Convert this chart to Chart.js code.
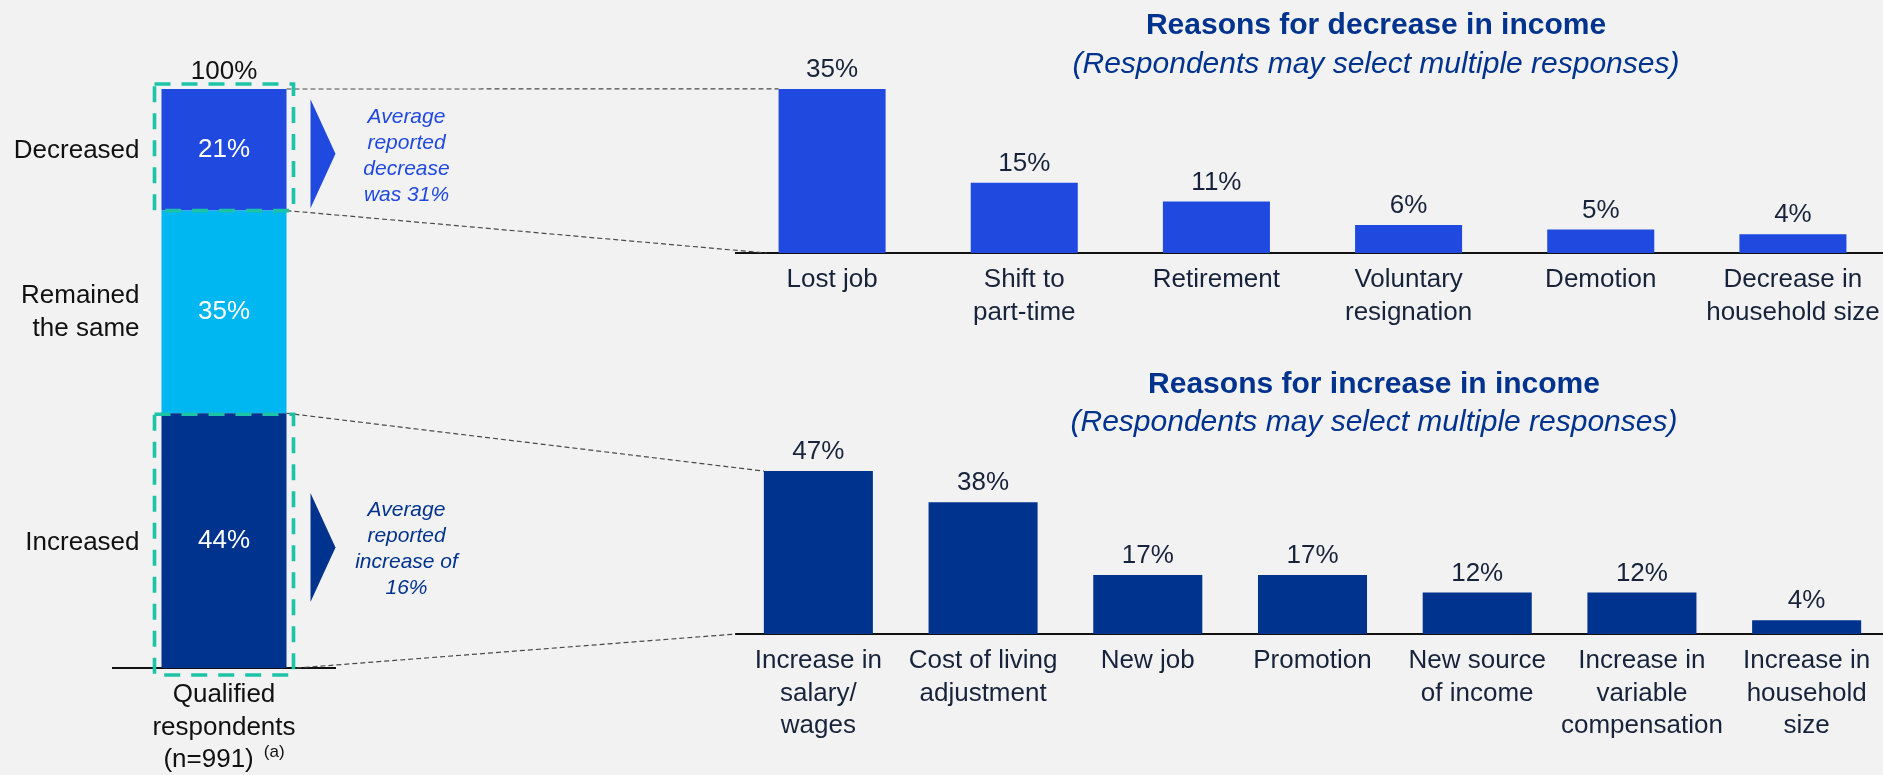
<!DOCTYPE html>
<html>
<head>
<meta charset="utf-8">
<title>Change in household income</title>
<script src="https://cdn.jsdelivr.net/npm/chart.js@4.4.1/dist/chart.umd.min.js"></script>
<style>
  html, body { margin: 0; padding: 0; background: #f2f2f2; width: 1883px; height: 775px; overflow: hidden; }
  canvas { position: absolute; display: block; }
</style>
</head>
<body>
<canvas id="cLeft" width="450" height="775" style="left:0;top:0"></canvas>
<canvas id="cTop" width="1200" height="370" style="left:700px;top:0"></canvas>
<canvas id="cBottom" width="1200" height="435" style="left:700px;top:340px"></canvas>
<canvas id="overlay" width="1883" height="775" style="left:0;top:0;pointer-events:none"></canvas>
<script>
// ---- data ----
const shareLabels = ['Increased', 'Remained the same', 'Decreased'];
const shareValues = [44, 35, 21];
const shareTotal = '100%';
const sampleLabel = ['Qualified', 'respondents', '(n=991)'];
const sampleNote = '(a)';

const decreaseReasons = [['Lost job'], ['Shift to', 'part-time'], ['Retirement'], ['Voluntary', 'resignation'], ['Demotion'], ['Decrease in', 'household size']];
const decreaseValues = [35, 15, 11, 6, 5, 4];

const increaseReasons = [['Increase in', 'salary/', 'wages'], ['Cost of living', 'adjustment'], ['New job'], ['Promotion'], ['New source', 'of income'], ['Increase in', 'variable', 'compensation'], ['Increase in', 'household', 'size']];
const increaseValues = [47, 38, 17, 17, 12, 12, 4];

const avgDecreaseNote = ['Average', 'reported', 'decrease', 'was 31%'];
const avgIncreaseNote = ['Average', 'reported', 'increase of', '16%'];

const decreaseTitle = 'Reasons for decrease in income';
const increaseTitle = 'Reasons for increase in income';
const multiNote = '(Respondents may select multiple responses)';

// ---- styling ----
const FONT = "'Liberation Sans', Arial, Helvetica, sans-serif";
const ROYAL = '#2049E0';
const SKY = '#00B7F1';
const NAVY = '#00338D';
const TEAL = '#1CC3A6';
const INK = '#111111';
const SLATE = '#17233a';
const shareColors = [NAVY, SKY, ROYAL];

const pct = v => v + '%';

// value labels drawn above each bar
const barValueLabels = {
  id: 'barValueLabels',
  afterDatasetsDraw(chart) {
    const ctx = chart.ctx;
    const meta = chart.getDatasetMeta(0);
    ctx.save();
    ctx.font = '26px ' + FONT;
    ctx.fillStyle = SLATE;
    ctx.textAlign = 'center';
    ctx.textBaseline = 'middle';
    meta.data.forEach((bar, i) => {
      ctx.fillText(pct(chart.data.datasets[0].data[i]), bar.x, bar.y - 19);
    });
    ctx.restore();
  }
};

// labels inside the stacked segments, total on top and the footnote marker
const shareLabelsPlugin = {
  id: 'shareLabels',
  afterDatasetsDraw(chart) {
    const ctx = chart.ctx;
    ctx.save();
    ctx.font = '26px ' + FONT;
    ctx.textAlign = 'center';
    ctx.textBaseline = 'middle';
    let top = Infinity, cx = 0;
    chart.data.datasets.forEach((ds, i) => {
      const bar = chart.getDatasetMeta(i).data[0];
      ctx.fillStyle = '#ffffff';
      ctx.fillText(pct(ds.data[0]), bar.x, (bar.y + bar.base) / 2);
      top = Math.min(top, bar.y);
      cx = bar.x;
    });
    ctx.fillStyle = INK;
    ctx.fillText(shareTotal, cx, top - 17);
    ctx.restore();
  },
  afterDraw(chart) {
    const ctx = chart.ctx;
    const xs = chart.scales.x;
    const cx = xs.getPixelForTick(0);
    ctx.save();
    ctx.font = '26px ' + FONT;
    const lastW = ctx.measureText(sampleLabel[2]).width;
    ctx.font = '17px ' + FONT;
    const noteW = ctx.measureText(sampleNote).width;
    const gap = 10;
    const total = lastW + gap + noteW;
    const left = cx - total / 2;
    const lineH = 32.5;
    const y3 = xs.top + 11 + lineH * 2.5;
    // third line of the axis label, offset to leave room for the marker
    ctx.font = '26px ' + FONT;
    ctx.fillStyle = INK;
    ctx.textAlign = 'left';
    ctx.textBaseline = 'middle';
    ctx.fillText(sampleLabel[2], left, y3);
    ctx.font = '17px ' + FONT;
    ctx.fillText(sampleNote, left + lastW + gap, y3 - 8);
    ctx.restore();
  }
};

const baseFont = { family: FONT, size: 26, lineHeight: 1.25 };

const leftChart = new Chart(document.getElementById('cLeft'), {
  type: 'bar',
  data: {
    labels: [[sampleLabel[0], sampleLabel[1]]],
    datasets: shareLabels.map((l, i) => ({
      label: l,
      data: [shareValues[i]],
      backgroundColor: shareColors[i],
      borderWidth: 0,
      barPercentage: 0.563,
      categoryPercentage: 1
    }))
  },
  options: {
    responsive: false,
    animation: false,
    events: [],
    layout: { padding: { left: 113, right: 115, top: 89, bottom: 0 } },
    plugins: { legend: { display: false }, tooltip: { enabled: false } },
    scales: {
      x: {
        stacked: true,
        grid: { display: false, drawTicks: false },
        border: { display: true, color: INK, width: 2 },
        ticks: { color: INK, font: baseFont, padding: 11 },
        afterFit: s => { s.height = 107; }
      },
      y: { stacked: true, display: false, min: 0, max: 100 }
    }
  },
  plugins: [shareLabelsPlugin]
});

function reasonChart(id, labels, values, color, yMax, padTop, axisH, barPct) {
  return new Chart(document.getElementById(id), {
    type: 'bar',
    data: {
      labels: labels,
      datasets: [{
        data: values,
        backgroundColor: color,
        borderWidth: 0,
        barPercentage: barPct,
        categoryPercentage: 1
      }]
    },
    options: {
      responsive: false,
      animation: false,
      events: [],
      layout: { padding: { left: 36, right: 11, top: padTop, bottom: 0 } },
      plugins: { legend: { display: false }, tooltip: { enabled: false } },
      scales: {
        x: {
          grid: { display: false, drawTicks: false },
          border: { display: true, color: INK, width: 2 },
          ticks: { color: SLATE, font: baseFont, padding: 11, maxRotation: 0, autoSkip: false },
          afterFit: s => { s.height = axisH; }
        },
        y: { display: false, min: 0, max: yMax }
      }
    },
    plugins: [barValueLabels]
  });
}

const topChart = reasonChart('cTop', decreaseReasons, decreaseValues, ROYAL, 40, 65.5, 117, 0.557);
const bottomChart = reasonChart('cBottom', increaseReasons, increaseValues, NAVY, 50, 120.7, 141, 0.662);

// ---- connectors, callouts and headings ----
const OFF = { top: { x: 700, y: 0 }, bottom: { x: 700, y: 340 } };
const ov = document.getElementById('overlay');
const g = ov.getContext('2d');

function segment(i) {
  const b = leftChart.getDatasetMeta(i).data[0];
  return { left: b.x - b.width / 2, right: b.x + b.width / 2, top: Math.min(b.y, b.base), bottom: Math.max(b.y, b.base), cx: b.x };
}
function firstBar(chart, off) {
  const b = chart.getDatasetMeta(0).data[0];
  return { left: b.x - b.width / 2 + off.x, top: b.y + off.y, base: b.base + off.y, axisLeft: chart.chartArea.left + off.x };
}

const inc = segment(0);
const dec = segment(2);
const t0 = firstBar(topChart, OFF.top);
const b0 = firstBar(bottomChart, OFF.bottom);

function dashedLine(x1, y1, x2, y2) {
  g.save();
  g.strokeStyle = '#4a4a4a';
  g.lineWidth = 1.2;
  g.setLineDash([5, 3]);
  g.beginPath();
  g.moveTo(x1, y1);
  g.lineTo(x2, y2);
  g.stroke();
  g.restore();
}
dashedLine(dec.right, dec.top, t0.left, t0.top);
dashedLine(dec.right, dec.bottom, t0.left - 12, t0.base);
dashedLine(inc.right, inc.top, b0.left, b0.top);
dashedLine(inc.right + 10, inc.bottom, b0.axisLeft, b0.base);

function tealBox(x1, y1, x2, y2) {
  g.save();
  g.strokeStyle = TEAL;
  g.lineWidth = 3.6;
  g.setLineDash([16, 11]);
  g.strokeRect(x1, y1, x2 - x1, y2 - y1);
  g.restore();
}
tealBox(dec.left - 7, dec.top - 5, dec.right + 7, dec.bottom);
tealBox(inc.left - 7, inc.top + 1, inc.right + 7, inc.bottom + 7);

function arrow(seg, dy, color) {
  const cy = (seg.top + seg.bottom) / 2 + dy;
  const x1 = seg.right + 24, x2 = seg.right + 49, h = 109;
  g.save();
  g.fillStyle = color;
  g.beginPath();
  g.moveTo(x1, cy - h / 2);
  g.lineTo(x2, cy);
  g.lineTo(x1, cy + h / 2);
  g.closePath();
  g.fill();
  g.restore();
}
arrow(dec, 4, ROYAL);
arrow(inc, 7, NAVY);

function note(lines, seg, dy, color) {
  const cy = (seg.top + seg.bottom) / 2 + dy;
  const cx = seg.right + 120;
  const lh = 26;
  g.save();
  g.font = 'italic 21px ' + FONT;
  g.fillStyle = color;
  g.textAlign = 'center';
  g.textBaseline = 'middle';
  lines.forEach((t, i) => g.fillText(t, cx, cy + (i - (lines.length - 1) / 2) * lh));
  g.restore();
}
note(avgDecreaseNote, dec, 6, ROYAL);
note(avgIncreaseNote, inc, 9, NAVY);

// category names to the left of the stacked bar
g.save();
g.font = '26px ' + FONT;
g.fillStyle = INK;
g.textAlign = 'right';
g.textBaseline = 'middle';
const labelX = dec.left - 22;
g.fillText('Decreased', labelX, (dec.top + dec.bottom) / 2 + 1);
const mid = segment(1);
const midY = (mid.top + mid.bottom) / 2;
g.fillText('Remained', labelX, midY - 16.5);
g.fillText('the same', labelX, midY + 16.5);
g.fillText('Increased', labelX, (inc.top + inc.bottom) / 2 + 2);
g.restore();

function heading(title, sub, cx, y1, y2) {
  g.save();
  g.textAlign = 'center';
  g.textBaseline = 'middle';
  g.fillStyle = NAVY;
  g.font = 'bold 30px ' + FONT;
  g.fillText(title, cx, y1);
  g.font = 'italic 30px ' + FONT;
  g.fillText(sub, cx, y2);
  g.restore();
}
heading(decreaseTitle, multiNote, 1376, 26, 65);
heading(increaseTitle, multiNote, 1374, 385, 423);
</script>
</body>
</html>
